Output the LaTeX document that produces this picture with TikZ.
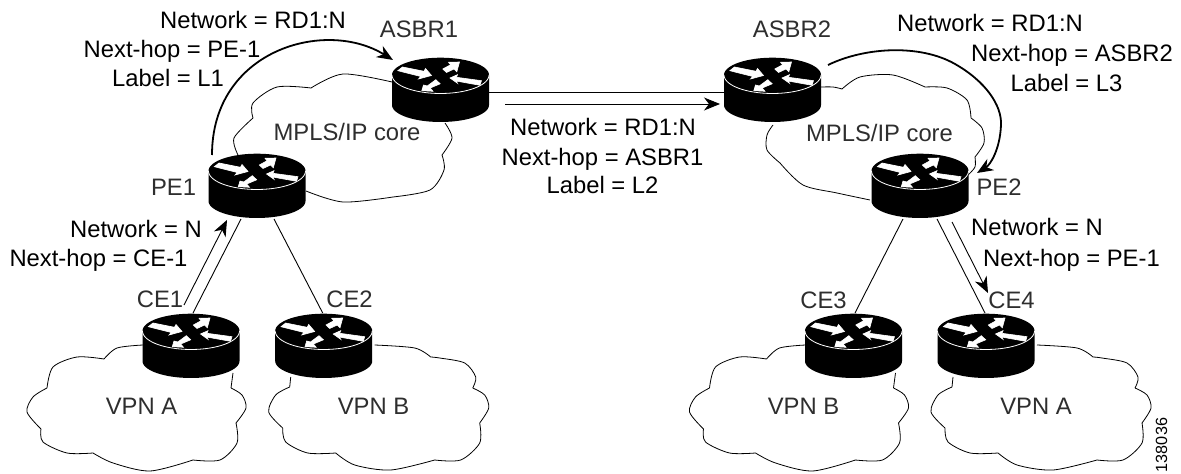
\documentclass[tikz,border=0pt]{standalone}
\usepackage{fontspec}
\setmainfont{Liberation Sans}
\usetikzlibrary{calc,arrows.meta}
\tikzset{
  lnk/.style={draw=black,line width=0.9bp},
  thick arc/.style={draw=black,line width=1.8bp},
  cloudline/.style={draw=black,line width=0.8bp,fill=none},
  head/.style={-{Stealth[length=16bp,width=13bp,inset=5bp]}},
  txt/.style={anchor=base,inner sep=0pt,font=\fontsize{23.8bp}{26bp}\selectfont,text=black},
  dev/.style={txt,text=black!82},
  rarrow/.style={fill=white,draw=white,line width=0.6bp,line join=miter},
}
\newcommand{\rtr}[3]{%
  \begin{scope}[shift={(#2,#3)}]
    \fill[black] (-48.5,0) -- (-48.5,30) -- plot[domain=180:0,samples=36] ({48.5*cos(\x)},{30+17*sin(\x)}) -- (48.5,0) -- plot[domain=0:-180,samples=36] ({48.5*cos(\x)},{17.3*sin(\x)}) -- cycle;
    \draw[white,line width=0.8bp] plot[domain=180:0,samples=36] ({48.5*cos(\x)},{18.5*sin(\x)});
    \path[rarrow] (-42.7,-4.3)--(-38,-8)--(-16.5,-3.7)--(-15,-6.5)--(-9,0.5)--(-22,4)--(-19.7,1.5)--cycle;
    \path[rarrow] (2.3,-6)--(10.2,-10.3)--(8,-12.7)--(19,-13)--(16.3,-3.2)--(13.5,-6)--(6,-2.5)--cycle;
    \path[rarrow] (9.5,3)--(17,-0.3)--(16,2.3)--(41,5.7)--(39.5,10.3)--(15.5,6)--(17,8.3)--cycle;
    \path[rarrow] (-18.7,15.7)--(-17,10)--(-13.2,11)--(-4.7,4.7)--(-0.3,8.8)--(-10.3,13)--(-7.5,16.3)--cycle;
  \end{scope}%
  \coordinate (#1) at (#2,#3);}
\newcommand{\cloudL}[1]{%
  \begin{scope}[shift={(#1,0)}]
  \draw[cloudline] plot[smooth] coordinates {(143,345)(117,348)(104,359)}
    plot[smooth] coordinates {(104,359)(77,357)(53,367)(47,388)}
    plot[smooth] coordinates {(47,388)(33,397)(27,412)(41,429)}
    plot[smooth] coordinates {(41,429)(43,442)(67,453)(93,453)}
    plot[smooth] coordinates {(93,453)(113,463)(150,471)(193,460)}
    plot[smooth] coordinates {(193,460)(220,460)(237,443)(236,423)}
    plot[smooth] coordinates {(236,423)(246,408)(242,395)(231,388)}
    plot[smooth] coordinates {(231,388)(233,373)};
  \end{scope}}
\newcommand{\cloudR}[1]{%
  \begin{scope}[shift={(#1,0)}]
  \draw[cloudline] plot[smooth] coordinates {(953,377)(952,387)}
    plot[smooth] coordinates {(952,387)(938,395)(931,412)(945,428)}
    plot[smooth] coordinates {(945,428)(948,442)(970,453)(998,453)}
    plot[smooth] coordinates {(998,453)(1017,465)(1053,470)(1097,460)}
    plot[smooth] coordinates {(1097,460)(1123,460)(1142,443)(1142,423)}
    plot[smooth] coordinates {(1142,423)(1151,408)(1147,395)(1135,388)}
    plot[smooth] coordinates {(1135,388)(1138,377)(1127,363)(1102,358)(1093,357)}
    plot[smooth] coordinates {(1093,357)(1077,348)(1037,345)};
  \end{scope}}
\begin{document}
\begin{tikzpicture}[x=1bp,y=-1bp]
\useasboundingbox (0,0) rectangle (1181,474);
% clouds
\draw[cloudline] plot[smooth] coordinates {(392,82)(343,74)(311,88)}
  plot[smooth] coordinates {(311,88)(277,87)(253,103)(253,118)}
  plot[smooth] coordinates {(253,118)(234,138)(238,155)};
\draw[cloudline] plot[smooth] coordinates {(306,191)(343,202)(393,197)}
  plot[smooth] coordinates {(393,197)(430,190)(444,170)(442,155)}
  plot[smooth] coordinates {(442,155)(452,138)(445,123)};
\draw[cloudline] plot[smooth] coordinates {(821,87)(833,87)(842,89)}
  plot[smooth] coordinates {(842,89)(860,77)(893,75)(925,87)}
  plot[smooth] coordinates {(925,87)(947,88)(967,100)(971,118)}
  plot[smooth] coordinates {(971,118)(982,128)(984,143)(975,157)}
  plot[smooth] coordinates {(975,157)(975,167)(968,175)};
\draw[cloudline] plot[smooth] coordinates {(870,200)(837,193)(803,185)(780,163)}
  plot[smooth] coordinates {(780,163)(767,150)(767,135)(773,125)};
\cloudL{0}
\cloudL{662.5}
\cloudR{-662.3}
\cloudR{0}
% routers
\rtr{pe1}{257}{171}
\rtr{asbr1}{440.5}{75}
\rtr{asbr2}{772.5}{75}
\rtr{pe2}{920}{171}
\rtr{ce1}{191}{331}
\rtr{ce2}{323.7}{331}
\rtr{ce3}{853.5}{331}
\rtr{ce4}{986}{331}
% connectors
\draw[lnk] ($(pe1)+(-16,48)$) -- ($(ce1)+(2,-18)$);
\draw[lnk] ($(pe1)+(17,48)$) -- ($(ce2)+(-1,-18)$);
\draw[lnk,head] ($(ce1)+(-7,-26)$) -- ($(pe1)+(-30,49)$);
\draw[lnk] ($(asbr1)+(48,17)$) -- ($(asbr2)+(-48.5,17)$);
\draw[lnk,head] ($(asbr1)+(64.5,29)$) -- ($(asbr2)+(-52.5,29)$);
\draw[thick arc,head] ($(pe1)+(-45,-16)$) .. controls (212,50) and (325,18) .. ($(asbr1)+(-47.5,-15)$);
\draw[thick arc,head] ($(asbr2)+(55.5,-10)$) .. controls (865,47) and (920,44) .. (955,64) .. controls (985,81) and (1002,105) .. (1001,125) .. controls (1000,150) and (990,165) .. ($(pe2)+(57,2)$);
\draw[lnk] ($(pe2)+(-17,48)$) -- ($(ce3)+(1.5,-18)$);
\draw[lnk] ($(pe2)+(17,48)$) -- ($(ce4)+(-1,-18)$);
\draw[lnk,head] ($(pe2)+(32,51)$) -- ($(ce4)+(2,-38)$);
% device labels
\node[dev] (lasbr1) at (419,38) {ASBR1};
\node[dev] (lasbr2) at (792,38) {ASBR2};
\node[dev] (lpe1) at (173.5,196) {PE1};
\node[dev] (lpe2) at (999,196) {PE2};
\node[dev] (lce1) at (160,308) {CE1};
\node[dev] (lce2) at (349.5,308) {CE2};
\node[dev] (lce3) at (823.5,309) {CE3};
\node[dev] (lce4) at (1011.5,309) {CE4};
\node[dev] (lcore1) at (347,141) {MPLS/IP core};
\node[dev] (lcore2) at (879.5,142) {MPLS/IP core};
\node[dev] (lvpna1) at (141.5,415) {VPN A};
\node[dev] (lvpnb1) at (373.5,415) {VPN B};
\node[dev] (lvpnb2) at (803.5,415) {VPN B};
\node[dev] (lvpna2) at (1036,415) {VPN A};
% route labels
\node[txt] (a1) at (253,28.5) {Network = RD1:N};
\node[txt] (a2) at (172,58) {Next-hop = PE-1};
\node[txt] (a3) at (168,87) {Label = L1};
\node[txt] (b1) at (603,136) {Network = RD1:N};
\node[txt] (b2) at (602.5,166) {Next-hop = ASBR1};
\node[txt] (b3) at (602.5,194) {Label = L2};
\node[txt] (c1) at (990,32) {Network = RD1:N};
\node[txt] (c2) at (1072,62) {Next-hop = ASBR2};
\node[txt] (c3) at (1066.5,92) {Label = L3};
\node[txt] (d1) at (136,238) {Network = N};
\node[txt] (d2) at (98.5,267) {Next-hop = CE-1};
\node[txt] (e1) at (1037,236) {Network = N};
\node[txt] (e2) at (1071.5,267) {Next-hop = PE-1};
\node[txt,rotate=90,font=\fontsize{16.2bp}{18bp}\selectfont] (id) at (1167,445) {138036};
\end{tikzpicture}
\end{document}
